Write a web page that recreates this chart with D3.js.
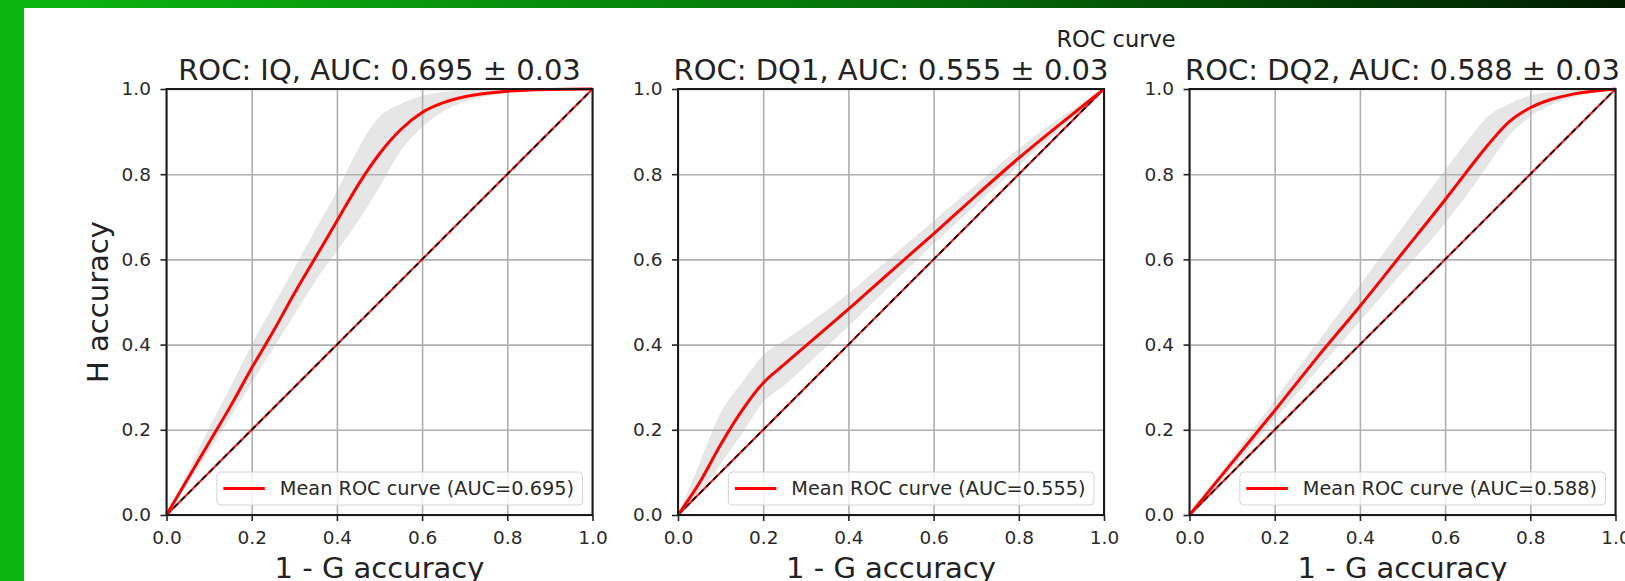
<!DOCTYPE html>
<html>
<head>
<meta charset="utf-8">
<script src="https://cdn.jsdelivr.net/npm/d3@7"></script>
<style>
  body { margin: 0; background: #fff; }
  svg { display: block; font-family: "DejaVu Sans", sans-serif; }
</style>
</head>
<body>
<div id="chart"></div>
<script>
// Chart data
var panelNames = ["IQ", "DQ1", "DQ2"];
var panelAuc = [0.695, 0.555, 0.588];
var panelStd = [0.03, 0.03, 0.03];
var tickValues = [0, 0.2, 0.4, 0.6, 0.8, 1.0];

var iqFpr   = [0, 0.05, 0.1, 0.15, 0.2, 0.25, 0.3, 0.35, 0.4, 0.45, 0.5, 0.55, 0.6, 0.65, 0.7, 0.8, 0.9, 1.0];
var iqTpr   = [0, 0.085, 0.17, 0.255, 0.345, 0.43, 0.52, 0.605, 0.69, 0.775, 0.848, 0.905, 0.945, 0.968, 0.982, 0.995, 0.999, 1.0];
var iqUpper = [0, 0.1, 0.205, 0.3, 0.4, 0.49, 0.58, 0.67, 0.76, 0.86, 0.935, 0.965, 0.984, 0.993, 0.997, 1.0, 1.0, 1.0];
var iqLower = [0, 0.075, 0.15, 0.23, 0.31, 0.39, 0.47, 0.55, 0.62, 0.69, 0.77, 0.855, 0.91, 0.948, 0.97, 0.99, 0.998, 1.0];

var dq1Fpr   = [0, 0.05, 0.1, 0.15, 0.2, 0.25, 0.3, 0.4, 0.5, 0.6, 0.7, 0.8, 0.9, 1.0];
var dq1Tpr   = [0, 0.075, 0.165, 0.245, 0.31, 0.354, 0.397, 0.483, 0.572, 0.66, 0.75, 0.838, 0.92, 1.0];
var dq1Upper = [0, 0.12, 0.24, 0.31, 0.375, 0.41, 0.445, 0.52, 0.605, 0.69, 0.775, 0.86, 0.935, 1.0];
var dq1Lower = [0, 0.05, 0.12, 0.19, 0.265, 0.305, 0.35, 0.443, 0.54, 0.636, 0.728, 0.82, 0.908, 1.0];

var dq2Fpr   = [0, 0.1, 0.2, 0.3, 0.4, 0.5, 0.6, 0.65, 0.7, 0.75, 0.8, 0.85, 0.9, 1.0];
var dq2Tpr   = [0, 0.123, 0.245, 0.37, 0.49, 0.615, 0.74, 0.805, 0.868, 0.923, 0.956, 0.976, 0.988, 1.0];
var dq2Upper = [0, 0.135, 0.27, 0.405, 0.54, 0.675, 0.81, 0.875, 0.935, 0.965, 0.985, 0.993, 0.997, 1.0];
var dq2Lower = [0, 0.11, 0.225, 0.34, 0.455, 0.57, 0.685, 0.75, 0.82, 0.89, 0.935, 0.963, 0.98, 1.0];

var panelFpr = [iqFpr, dq1Fpr, dq2Fpr];
var panelTpr = [iqTpr, dq1Tpr, dq2Tpr];
var panelUpper = [iqUpper, dq1Upper, dq2Upper];
var panelLower = [iqLower, dq1Lower, dq2Lower];

// Layout
var width = 1625;
var height = 581;
var panelLeft = [166.5, 678, 1189.5];
var plotW = 426;
var plotH = 426;
var plotTop = 89;

var svg = d3.select("#chart")
    .append("svg")
    .attr("width", width)
    .attr("height", height);

// green frame round the page
var defs = svg.append("defs");
var grad = defs.append("linearGradient")
    .attr("id", "topBar")
    .attr("x1", "0%").attr("x2", "100%")
    .attr("y1", "0%").attr("y2", "0%");
grad.append("stop").attr("offset", "0%").attr("stop-color", "#0bb810");
grad.append("stop").attr("offset", "50%").attr("stop-color", "#06780a");
grad.append("stop").attr("offset", "100%").attr("stop-color", "#011c01");

svg.append("rect")
    .attr("x", 0).attr("y", 0)
    .attr("width", width).attr("height", 8)
    .attr("fill", "url(#topBar)");
svg.append("rect")
    .attr("x", 0).attr("y", 0)
    .attr("width", 24).attr("height", height)
    .attr("fill", "#0ab50f");

// figure title
svg.append("text")
    .attr("x", 1116)
    .attr("y", 47)
    .attr("text-anchor", "middle")
    .attr("font-size", "22.5px")
    .attr("fill", "#222")
    .text("ROC curve");

panelNames.forEach(function(name, i) {
  var g = svg.append("g")
      .attr("transform", `translate(${panelLeft[i]}, ${plotTop})`);

  var xScale = d3.scaleLinear().domain([0, 1]).range([0, plotW]);
  var yScale = d3.scaleLinear().domain([0, 1]).range([plotH, 0]);

  var rows = panelFpr[i].map(function(f, k) {
    return { fpr: f, tpr: panelTpr[i][k], hi: panelUpper[i][k], lo: panelLower[i][k] };
  });

  // std band
  var band = d3.area()
      .x(function(d) { return xScale(d.fpr); })
      .y0(function(d) { return yScale(d.lo); })
      .y1(function(d) { return yScale(d.hi); })
      .curve(d3.curveMonotoneX);
  g.append("path")
      .datum(rows)
      .attr("d", band)
      .attr("fill", "#e6e6e6");

  // grid
  g.append("g")
      .attr("class", "grid")
      .attr("transform", `translate(0, ${plotH})`)
      .call(d3.axisBottom(xScale).tickValues(tickValues).tickSize(-plotH).tickFormat(""))
      .call(function(s) { s.select(".domain").remove(); });
  g.append("g")
      .attr("class", "grid")
      .call(d3.axisLeft(yScale).tickValues(tickValues).tickSize(-plotW).tickFormat(""))
      .call(function(s) { s.select(".domain").remove(); });
  g.selectAll(".grid line")
      .attr("stroke", "#b0b0b0")
      .attr("stroke-width", 1.6);

  // chance diagonal
  var diag = d3.line()
      .x(function(d) { return xScale(d); })
      .y(function(d) { return yScale(d); });
  g.append("path")
      .datum([0, 1])
      .attr("d", diag)
      .attr("fill", "none")
      .attr("stroke", "#e81818")
      .attr("stroke-width", 2);
  g.append("path")
      .datum([0, 1])
      .attr("d", diag)
      .attr("fill", "none")
      .attr("stroke", "#2a0000")
      .attr("stroke-width", 1.8)
      .attr("stroke-dasharray", "6,4");

  // mean ROC curve
  var meanLine = d3.line()
      .x(function(d) { return xScale(d.fpr); })
      .y(function(d) { return yScale(d.tpr); })
      .curve(d3.curveMonotoneX);
  g.append("path")
      .datum(rows)
      .attr("d", meanLine)
      .attr("fill", "none")
      .attr("stroke", "#ff0000")
      .attr("stroke-width", 3);

  // axes
  var xAxis = d3.axisBottom(xScale)
      .tickValues(tickValues)
      .tickFormat(d3.format(".1f"))
      .tickSize(6)
      .tickPadding(10);
  var yAxis = d3.axisLeft(yScale)
      .tickValues(tickValues)
      .tickFormat(d3.format(".1f"))
      .tickSize(6)
      .tickPadding(9.5);

  g.append("g")
      .attr("class", "xAxis")
      .attr("transform", `translate(0, ${plotH})`)
      .call(xAxis);
  g.append("g")
      .attr("class", "yAxis")
      .call(yAxis);
  g.selectAll(".xAxis .domain, .yAxis .domain").remove();
  g.selectAll(".xAxis text, .yAxis text")
      .attr("font-family", "DejaVu Sans")
      .attr("font-size", "18.5px")
      .attr("fill", "#2a2a2a");
  g.selectAll(".xAxis line, .yAxis line")
      .attr("stroke", "#222")
      .attr("stroke-width", 1.6);

  // spines
  g.append("rect")
      .attr("x", 0).attr("y", 0)
      .attr("width", plotW).attr("height", plotH)
      .attr("fill", "none")
      .attr("stroke", "#1a1a1a")
      .attr("stroke-width", 2);

  // legend
  var legend = g.append("g");
  var legendBox = legend.append("rect")
      .attr("rx", 4).attr("ry", 4)
      .attr("fill", "#fff")
      .attr("fill-opacity", 0.8)
      .attr("stroke", "#d4d4d4")
      .attr("stroke-width", 1);
  var legendText = legend.append("text")
      .attr("font-size", "19.3px")
      .attr("fill", "#2a2a2a")
      .attr("dy", "0.35em")
      .text("Mean ROC curve (AUC=" + d3.format(".3f")(panelAuc[i]) + ")");
  var tw = legendText.node().getComputedTextLength();
  var boxW = tw + 63 + 8.5;
  var boxH = 33;
  var boxX = plotW - 10 - boxW;
  var boxY = plotH - 10 - boxH;
  legendBox.attr("x", boxX).attr("y", boxY).attr("width", boxW).attr("height", boxH);
  legendText.attr("x", boxX + 63).attr("y", boxY + boxH / 2);
  legend.append("line")
      .attr("x1", boxX + 6.5).attr("x2", boxX + 48)
      .attr("y1", boxY + boxH / 2).attr("y2", boxY + boxH / 2)
      .attr("stroke", "#ff0000")
      .attr("stroke-width", 3);

  // titles
  g.append("text")
      .attr("x", plotW / 2)
      .attr("y", -9)
      .attr("text-anchor", "middle")
      .attr("font-size", "29px")
      .attr("fill", "#222")
      .text("ROC: " + name + ", AUC: " + d3.format(".3f")(panelAuc[i]) + " \u00b1 " + d3.format(".2f")(panelStd[i]));

  g.append("text")
      .attr("x", plotW / 2)
      .attr("y", 578 - plotTop)
      .attr("text-anchor", "middle")
      .attr("font-size", "29px")
      .attr("fill", "#222")
      .text("1 - G accuracy");

  if (i === 0) {
    g.append("text")
        .attr("transform", `translate(${108 - panelLeft[i]}, ${plotH / 2})rotate(-90)`)
        .attr("text-anchor", "middle")
        .attr("font-size", "29px")
        .attr("fill", "#222")
        .text("H accuracy");
  }
});
</script>
</body>
</html>
